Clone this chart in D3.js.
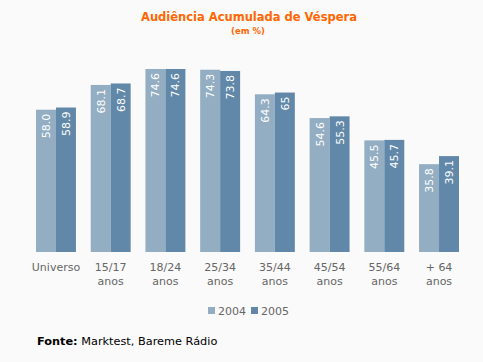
<!DOCTYPE html>
<html>
<head>
<meta charset="utf-8">
<script src="https://cdn.jsdelivr.net/npm/d3@7"></script>
<style>
  body { margin: 0; background: #fafafa; }
  svg { display: block; font-family: "DejaVu Sans", Verdana, sans-serif; }
</style>
</head>
<body>
<div id="chart"></div>
<script>
const categories = ["Universo", "15/17 anos", "18/24 anos", "25/34 anos", "35/44 anos", "45/54 anos", "55/64 anos", "+ 64 anos"];
const series = ["2004", "2005"];
const values2004 = [58.0, 68.1, 74.6, 74.3, 64.3, 54.6, 45.5, 35.8];
const values2005 = [58.9, 68.7, 74.6, 73.8, 65, 55.3, 45.7, 39.1];
const labels2004 = ["58.0", "68.1", "74.6", "74.3", "64.3", "54.6", "45.5", "35.8"];
const labels2005 = ["58.9", "68.7", "74.6", "73.8", "65", "55.3", "45.7", "39.1"];

const width = 483, height = 362;
const colors = { "2004": "#93adc2", "2005": "#6188a8" };

const data = categories.map((c, i) => ({
  cat: c,
  bars: [
    { key: "2004", value: values2004[i], label: labels2004[i] },
    { key: "2005", value: values2005[i], label: labels2005[i] }
  ]
}));

const svg = d3.select("#chart")
  .append("svg")
  .attr("width", width)
  .attr("height", height);

svg.append("rect").attr("width", width).attr("height", height).attr("fill", "#fafafa");

const x = d3.scaleBand()
  .domain(categories)
  .range([36, 459])
  .paddingInner(0.27)
  .paddingOuter(0);

const x1 = d3.scaleBand()
  .domain(series)
  .range([0, x.bandwidth()]);

const y = d3.scaleLinear()
  .domain([0, 74.6])
  .range([252, 69]);

// title
svg.append("text")
  .attr("x", 249).attr("y", 21)
  .attr("text-anchor", "middle")
  .attr("fill", "#ff6600")
  .attr("font-weight", "bold")
  .attr("font-size", 11.5)
  .text("Audiência Acumulada de Véspera");

svg.append("text")
  .attr("x", 248).attr("y", 34)
  .attr("text-anchor", "middle")
  .attr("fill", "#ff6600")
  .attr("font-weight", "bold")
  .attr("font-size", 8.5)
  .text("(em %)");

const groups = svg.append("g")
  .selectAll("g")
  .data(data)
  .join("g")
  .attr("transform", d => `translate(${x(d.cat)},0)`);

groups.selectAll("rect")
  .data(d => d.bars)
  .join("rect")
  .attr("x", d => x1(d.key))
  .attr("y", d => y(d.value))
  .attr("width", x1.bandwidth())
  .attr("height", d => y(0) - y(d.value))
  .attr("fill", d => colors[d.key]);

groups.selectAll("text.val")
  .data(d => d.bars)
  .join("text")
  .attr("class", "val")
  .attr("transform", d => `translate(${x1(d.key) + x1.bandwidth() / 2 + 4},${y(d.value) + 4}) rotate(-90)`)
  .attr("text-anchor", "end")
  .attr("fill", "#ffffff")
  .attr("font-size", 11)
  .text(d => d.label);

// x axis labels
const xl = groups.append("text")
  .attr("x", x.bandwidth() / 2)
  .attr("y", 271)
  .attr("text-anchor", "middle")
  .attr("fill", "#666666")
  .attr("font-size", 11);

xl.selectAll("tspan")
  .data(d => d.cat === "+ 64 anos" ? ["+ 64", "anos"] : d.cat.split(" "))
  .join("tspan")
  .attr("x", x.bandwidth() / 2)
  .attr("dy", (d, i) => i === 0 ? 0 : 14)
  .text(d => d);

// legend
const legend = svg.append("g")
  .selectAll("g")
  .data(series)
  .join("g")
  .attr("transform", (d, i) => `translate(${208 + i * 43},307)`);

legend.append("rect")
  .attr("width", 7).attr("height", 7)
  .attr("fill", d => colors[d]);

legend.append("text")
  .attr("x", 10).attr("y", 8)
  .attr("fill", "#666666")
  .attr("font-size", 11)
  .text(d => d);

// source
const src = svg.append("text")
  .attr("x", 37).attr("y", 345)
  .attr("fill", "#000000")
  .attr("font-size", 11.3);
src.append("tspan").attr("font-weight", "bold").text("Fonte:");
src.append("tspan").text(" Marktest, Bareme Rádio");
</script>
</body>
</html>
